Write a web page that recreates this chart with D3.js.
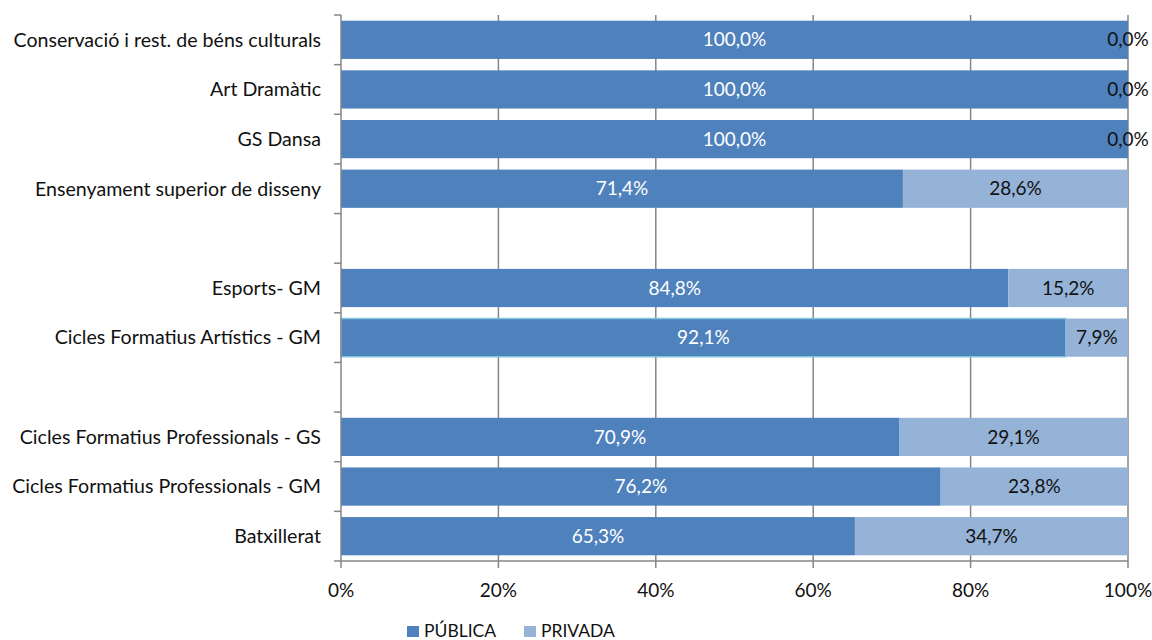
<!DOCTYPE html>
<html>
<head>
<meta charset="utf-8">
<script src="https://cdn.jsdelivr.net/npm/d3@7"></script>
<style>
  body { margin: 0; background: #fff; }
  svg { display: block; font-family: Lato, "Open Sans", sans-serif; }
</style>
</head>
<body>
<svg id="chart" width="1152" height="640"></svg>
<script>
// Row order from top to bottom; empty strings are spacer rows between groups
const categories = [
  "Conservació i rest. de béns culturals",
  "Art Dramàtic",
  "GS Dansa",
  "Ensenyament superior de disseny",
  "",
  "Esports- GM",
  "Cicles Formatius Artístics - GM",
  " ",
  "Cicles Formatius Professionals - GS",
  "Cicles Formatius Professionals - GM",
  "Batxillerat"
];
const publica = [100.0, 100.0, 100.0, 71.4, null, 84.8, 92.1, null, 70.9, 76.2, 65.3];
const privada = [0.0, 0.0, 0.0, 28.6, null, 15.2, 7.9, null, 29.1, 23.8, 34.7];
const tickValues = [0, 20, 40, 60, 80, 100];
const seriesNames = ["PÚBLICA", "PRIVADA"];
const colors = ["#4f81bd", "#95b3d7"];

const svg = d3.select("#chart");
const plot = { left: 341, right: 1128, top: 15, bottom: 561 };
const fontSize = 19;

const x = d3.scaleLinear().domain([0, 100]).range([plot.left, plot.right]);
const y = d3.scaleBand().domain(categories).range([plot.top, plot.bottom]).paddingInner(0.23).paddingOuter(0.115);
const fmt = v => v.toFixed(1).replace(".", ",") + "%";

// vertical gridlines
svg.append("g").selectAll("line").data(tickValues.slice(1)).join("line")
  .attr("x1", d => x(d)).attr("x2", d => x(d))
  .attr("y1", plot.top).attr("y2", plot.bottom + 7)
  .attr("stroke", "#868686").attr("stroke-width", 1.5);

const rows = categories.map((c, i) => ({ c, pub: publica[i], priv: privada[i], i }))
  .filter(r => r.pub !== null);

// stacked segments
const bars = svg.append("g");
bars.selectAll("rect.pub").data(rows).join("rect")
  .attr("class", "pub")
  .attr("x", x(0)).attr("y", d => y(d.c))
  .attr("width", d => x(d.pub) - x(0)).attr("height", y.bandwidth())
  .attr("fill", colors[0])
  .attr("stroke", d => d.c === "Cicles Formatius Artístics - GM" ? "#7cc4dc" : "none")
  .attr("stroke-width", 1.5);
bars.selectAll("rect.priv").data(rows).join("rect")
  .attr("class", "priv")
  .attr("x", d => x(d.pub)).attr("y", d => y(d.c))
  .attr("width", d => x(d.pub + d.priv) - x(d.pub)).attr("height", y.bandwidth())
  .attr("fill", colors[1]);

// value labels
const labels = svg.append("g").attr("font-size", fontSize).attr("text-anchor", "middle");
labels.selectAll("text.pub").data(rows).join("text")
  .attr("class", "pub")
  .attr("x", d => (x(0) + x(d.pub)) / 2)
  .attr("y", d => y(d.c) + y.bandwidth() / 2).attr("dy", "0.35em")
  .attr("fill", "#fff").text(d => fmt(d.pub));
labels.selectAll("text.priv").data(rows).join("text")
  .attr("class", "priv")
  .attr("x", d => (x(d.pub) + x(d.pub + d.priv)) / 2)
  .attr("y", d => y(d.c) + y.bandwidth() / 2).attr("dy", "0.35em")
  .attr("fill", "#111").text(d => fmt(d.priv));

// category axis with boundary ticks
const step = y.step();
const boundaries = d3.range(categories.length + 1).map(i => plot.top + i * step);
const yAxis = svg.append("g");
yAxis.append("line").attr("x1", plot.left).attr("x2", plot.left).attr("y1", plot.top).attr("y2", plot.bottom + 7)
  .attr("stroke", "#868686").attr("stroke-width", 1.5);
yAxis.selectAll("line.tick").data(boundaries).join("line")
  .attr("class", "tick")
  .attr("x1", plot.left - 7).attr("x2", plot.left).attr("y1", d => d).attr("y2", d => d)
  .attr("stroke", "#868686").attr("stroke-width", 1.5);
yAxis.selectAll("text").data(categories.filter(c => c.trim() !== "")).join("text")
  .attr("x", plot.left - 20).attr("y", d => y(d) + y.bandwidth() / 2).attr("dy", "0.35em")
  .attr("text-anchor", "end").attr("font-size", 19.6).attr("fill", "#111").text(d => d);

// value axis
const xAxis = svg.append("g");
xAxis.append("line").attr("x1", plot.left).attr("x2", plot.right).attr("y1", plot.bottom).attr("y2", plot.bottom)
  .attr("stroke", "#868686").attr("stroke-width", 1.5);
xAxis.selectAll("text").data(tickValues).join("text")
  .attr("x", d => x(d)).attr("y", 590).attr("dy", "0.35em")
  .attr("text-anchor", "middle").attr("font-size", fontSize).attr("fill", "#111").text(d => d + "%");

// legend
const legend = svg.append("g").attr("font-size", 17.5);
const legendX = [407, 524];
seriesNames.forEach((name, i) => {
  legend.append("rect").attr("x", legendX[i]).attr("y", 626).attr("width", 12).attr("height", 11).attr("fill", colors[i]);
  legend.append("text").attr("x", legendX[i] + 17).attr("y", 637).attr("fill", "#111").text(name);
});
</script>
</body>
</html>
